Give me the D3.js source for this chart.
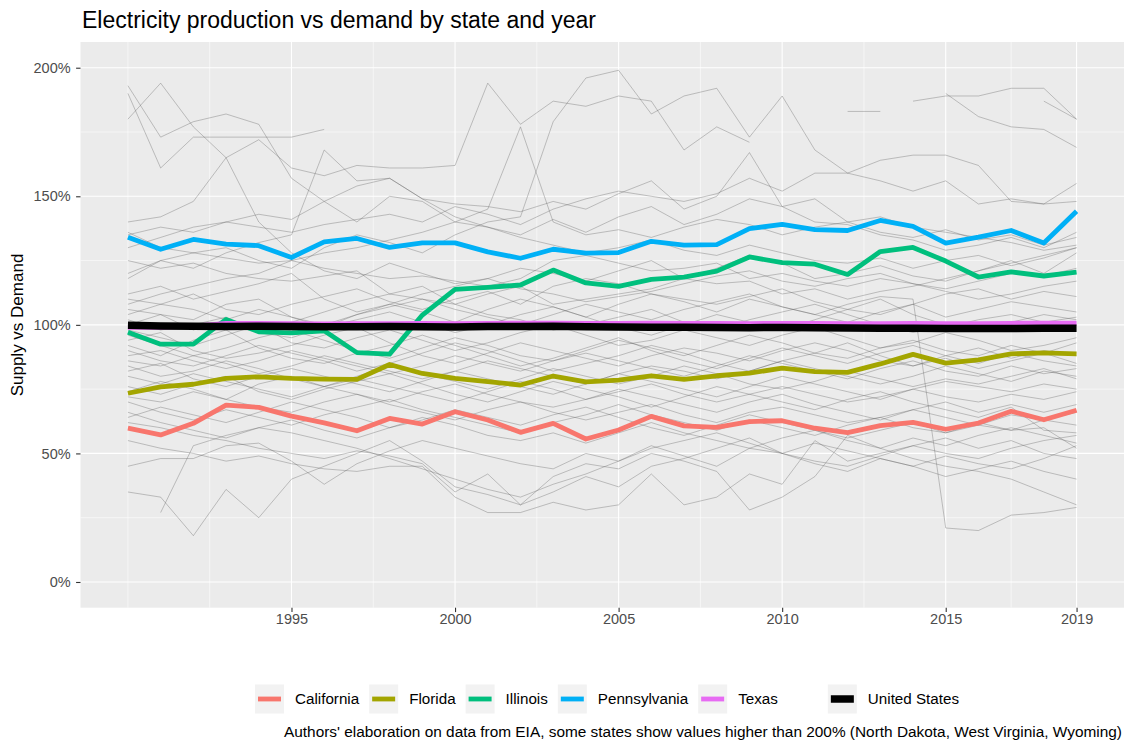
<!DOCTYPE html>
<html><head><meta charset="utf-8">
<script src="https://cdn.jsdelivr.net/npm/d3@7"></script>
<style>
body{margin:0;background:#fff}
svg{display:block}
text{font-family:"Liberation Sans",Arial,Helvetica,sans-serif}
</style>
</head><body>
<svg id="chart" width="1127" height="748"></svg>
<script>
// ---------------- DATA ----------------
const years = [1990,1991,1992,1993,1994,1995,1996,1997,1998,1999,2000,2001,2002,2003,2004,2005,2006,2007,2008,2009,2010,2011,2012,2013,2014,2015,2016,2017,2018,2019];

const california   = [0.598,0.572,0.617,0.688,0.679,0.645,0.619,0.588,0.636,0.614,0.662,0.630,0.582,0.617,0.556,0.591,0.644,0.607,0.601,0.624,0.627,0.598,0.581,0.608,0.621,0.594,0.618,0.664,0.631,0.668];
const florida      = [0.734,0.759,0.769,0.792,0.798,0.792,0.789,0.788,0.846,0.811,0.792,0.779,0.766,0.801,0.778,0.785,0.802,0.788,0.802,0.812,0.832,0.818,0.815,0.848,0.885,0.851,0.864,0.887,0.891,0.887];
const illinois     = [0.971,0.925,0.925,1.021,0.973,0.969,0.977,0.892,0.886,1.038,1.138,1.146,1.155,1.213,1.163,1.150,1.177,1.186,1.209,1.264,1.242,1.236,1.196,1.285,1.301,1.248,1.186,1.206,1.190,1.205];
const pennsylvania = [1.341,1.294,1.332,1.314,1.308,1.262,1.323,1.336,1.301,1.319,1.319,1.284,1.259,1.294,1.279,1.281,1.325,1.310,1.312,1.374,1.391,1.370,1.367,1.406,1.383,1.318,1.341,1.367,1.318,1.442];
const texas        = [0.990,0.990,0.995,1.006,1.006,1.005,1.004,1.005,1.005,1.006,1.005,1.006,1.007,1.007,1.006,1.006,1.007,1.006,1.006,1.005,1.006,1.006,1.005,1.005,1.006,1.005,1.005,1.006,1.007,1.007];
const unitedStates = [0.998,0.996,0.995,0.994,0.995,0.994,0.993,0.993,0.994,0.993,0.992,0.994,0.994,0.995,0.993,0.992,0.991,0.991,0.990,0.989,0.990,0.989,0.988,0.987,0.987,0.986,0.986,0.986,0.987,0.987];

const stateNames  = ["California","Florida","Illinois","Pennsylvania","Texas"];
const stateColors = ["#F8766D","#A3A500","#00BF7D","#00B0F6","#E76BF3"];
const usName = "United States";

// other states (percent, n = not shown / above 200%)
const n = null;
const otherStates = [
 [190,161,173,173,173,173,176,n,n,n,n,n,n,n,n,n,n,n,n,n,n,n,n,n,n,n,n,n,n,n],
 [193,173,179,182,178,157,148,140,150,148,140,138,135,141,136,142,146,139,143,149,146,140,139,135,133,129,131,134,130,136],
 [180,194,177,165,140,128,121,118,124,120,116,118,122,120,117,121,125,118,122,127,124,118,120,123,119,117,121,125,120,128],
 [140,142,148,165,172,161,158,162,161,161,162,194,178,187,185,189,187,168,177,171,n,n,n,n,n,n,n,n,n,n],
 [118,125,128,130,125,122,130,135,132,128,135,140,142,179,196,199,182,189,192,173,189,168,159,164,166,166,162,148,147,155],
 [108,112,115,118,120,125,128,130,133,136,140,145,177,140,135,137,134,138,141,139,135,138,140,136,134,137,133,135,131,134],
 [120,125,122,128,132,135,168,156,157,149,142,138,134,131,128,130,133,129,127,131,128,125,124,126,122,125,127,123,126,130],
 [130,134,138,140,143,141,148,154,157,149,147,146,144,148,145,151,156,145,150,167,146,149,140,142,138,136,134,132,129,131],
 [135,138,136,140,138,136,139,141,143,140,146,143,139,145,149,152,150,148,151,157,152,159,159,156,152,156,147,149,147,148],
 [n,n,n,n,n,n,n,n,n,n,n,n,n,n,n,n,n,n,n,n,n,n,183,183,n,n,n,n,n,n],
 [n,n,n,n,n,n,n,n,n,n,n,n,n,n,n,n,n,n,n,n,n,n,n,n,187,189,189,192,192,180],
 [n,n,n,n,n,n,n,n,n,n,n,n,n,n,n,n,n,n,n,n,n,n,n,n,n,190,181,177,176,169],
 [n,n,n,n,n,n,n,n,n,n,n,n,n,n,n,n,n,n,n,n,n,n,n,n,n,n,n,n,187,180],
 [136,130,128,126,124,125,122,120,118,119,117,115,118,125,127,124,121,122,124,118,120,117,115,118,116,114,117,120,119,122],
 [125,122,124,120,118,117,119,121,112,110,108,112,115,108,110,112,114,118,116,117,112,114,110,113,115,118,121,124,127,130],
 [112,115,110,113,116,120,110,105,108,112,115,118,114,112,109,111,113,116,119,121,117,115,118,120,116,113,110,112,115,117],
 [110,108,112,106,104,108,111,114,109,106,110,113,108,115,118,116,112,110,108,111,114,109,106,104,108,112,114,110,113,111],
 [106,104,102,108,110,103,100,104,107,110,106,103,100,104,108,105,102,106,109,112,107,104,101,105,108,103,106,109,107,105],
 [104,108,106,102,99,101,105,109,112,115,108,104,102,98,100,103,106,101,98,102,105,108,104,100,97,99,102,104,101,103],
 [102,98,100,103,97,95,99,102,105,101,97,100,104,107,103,99,96,100,104,101,98,102,106,110,104,100,98,101,104,102],
 [98,95,92,96,100,93,91,95,98,94,90,93,97,100,96,92,94,98,95,92,96,99,95,91,93,97,94,90,92,95],
 [96,92,88,91,95,98,94,90,87,91,95,92,88,86,90,94,91,88,92,96,93,89,87,91,94,90,88,92,89,93],
 [94,97,90,87,89,92,96,99,93,88,85,89,93,90,87,84,88,91,89,86,90,93,90,86,84,88,91,87,90,88],
 [92,88,94,98,91,87,85,89,92,96,92,88,84,87,91,95,90,86,83,87,91,88,85,89,92,88,85,89,86,84],
 [90,86,84,88,92,89,86,82,85,89,93,90,86,82,85,88,92,89,85,82,86,89,93,88,84,87,83,86,89,85],
 [88,90,86,83,86,90,87,84,81,84,88,85,82,86,89,86,83,80,84,88,85,82,79,83,86,82,80,84,81,83],
 [86,84,88,85,81,84,88,85,82,79,82,86,83,80,77,81,84,82,79,82,86,83,80,77,80,84,81,78,82,80],
 [84,80,82,86,83,79,76,80,84,81,78,75,79,83,80,77,80,84,81,77,75,78,82,79,76,79,77,80,83,79],
 [82,85,79,76,80,83,80,77,74,78,82,79,76,73,77,81,78,75,72,76,80,77,74,71,75,78,76,74,77,75],
 [80,77,81,78,75,72,76,79,76,73,70,74,78,75,71,74,77,73,70,73,76,73,70,72,75,72,70,73,71,74],
 [100,104,98,102,106,103,99,104,108,105,101,106,110,107,103,108,112,109,105,110,107,104,108,111,110,21,20,26,27,29],
 [72,70,74,71,68,66,70,73,69,66,63,67,70,66,63,66,69,65,62,66,68,65,62,64,67,64,61,65,63,66],
 [70,66,63,67,64,61,65,68,71,67,64,61,58,62,65,69,65,62,59,63,60,57,61,64,60,58,62,59,63,61],
 [66,62,59,56,60,63,59,56,60,64,61,57,55,58,54,58,62,58,55,52,56,59,55,52,56,53,57,60,57,54],
 [45,48,48,53,54,47,38,46,51,55,52,49,46,44,50,47,53,49,45,52,50,54,51,48,45,49,46,44,48,53],
 [35,33,18,36,25,40,45,50,55,47,37,34,30,35,41,37,45,48,52,56,50,46,43,48,45,41,44,47,43,40],
 [n,27,53,57,60,58,55,52,48,44,40,36,33,38,42,47,52,55,58,54,50,47,45,49,53,50,48,52,55,57],
 [55,52,50,47,49,46,44,43,45,45,33,27,27,31,28,30,42,30,33,42,38,55,47,50,53,56,52,55,50,48],
 [62,60,57,55,52,50,48,51,49,46,35,42,30,41,46,44,50,47,43,28,33,41,57,52,48,45,43,40,35,30],
 [64,68,65,62,66,70,67,64,60,63,67,64,61,65,68,64,60,57,61,65,62,59,56,59,62,58,61,59,60,52],
 [76,73,77,80,74,71,75,78,81,77,73,70,74,78,75,72,68,72,76,73,70,67,71,74,70,67,64,68,59,58],
 [74,78,75,71,77,80,76,73,70,74,77,73,70,68,71,75,72,69,66,70,73,69,66,63,67,70,66,69,66,69]
];

const xTickValues = [1995,2000,2005,2010,2015,2019];
const xMinorValues = [1990,1992.5,1997.5,2002.5,2007.5,2012.5,2017];
const yTickValues = [0,0.5,1,1.5,2];
const yMinorValues = [0.25,0.75,1.25,1.75];

const titleText = "Electricity production vs demand by state and year";
const yTitle = "Supply vs Demand";
const captionText = "Authors' elaboration on data from EIA, some states show values higher than 200% (North Dakota, West Virginia, Wyoming)";

// ---------------- CHART ----------------
const svg = d3.select("#chart");
const P = {left:80.5, right:1124, top:42, bottom:607.7};

const x = d3.scaleLinear().domain([1988.55, 2020.45]).range([P.left, P.right]);
const y = d3.scaleLinear().domain([-0.1, 2.1]).range([P.bottom, P.top]);

svg.append("rect").attr("x",0).attr("y",0).attr("width",1127).attr("height",748).attr("fill","#fff");
svg.append("rect").attr("x",P.left).attr("y",P.top).attr("width",P.right-P.left).attr("height",P.bottom-P.top).attr("fill","#EBEBEB");

svg.append("defs").append("clipPath").attr("id","clip")
  .append("rect").attr("x",P.left).attr("y",P.top).attr("width",P.right-P.left).attr("height",P.bottom-P.top);

const grid = svg.append("g");
grid.selectAll(".ymin").data(yMinorValues).join("line")
  .attr("x1",P.left).attr("x2",P.right).attr("y1",d=>y(d)).attr("y2",d=>y(d))
  .attr("stroke","#fff").attr("stroke-width",0.55);
grid.selectAll(".xmin").data(xMinorValues).join("line")
  .attr("y1",P.top).attr("y2",P.bottom).attr("x1",d=>x(d)).attr("x2",d=>x(d))
  .attr("stroke","#fff").attr("stroke-width",0.55);
grid.selectAll(".ymaj").data(yTickValues).join("line")
  .attr("x1",P.left).attr("x2",P.right).attr("y1",d=>y(d)).attr("y2",d=>y(d))
  .attr("stroke","#fff").attr("stroke-width",1.1);
grid.selectAll(".xmaj").data(xTickValues).join("line")
  .attr("y1",P.top).attr("y2",P.bottom).attr("x1",d=>x(d)).attr("x2",d=>x(d))
  .attr("stroke","#fff").attr("stroke-width",1.1);

const lineGen = d3.line()
  .defined(d => d[1] !== null)
  .x(d => x(d[0])).y(d => y(d[1]));

const plot = svg.append("g").attr("clip-path","url(#clip)");

plot.selectAll(".other").data(otherStates).join("path")
  .attr("fill","none")
  .attr("stroke","#5a5a5a")
  .attr("stroke-opacity",0.38)
  .attr("stroke-width",0.9)
  .attr("stroke-linejoin","round")
  .attr("d", s => lineGen(years.map((yr,i)=>[yr, s[i]===null?null:s[i]/100])));

const states = [california, florida, illinois, pennsylvania, texas];
states.forEach((vals,i)=>{
  plot.append("path")
    .attr("fill","none")
    .attr("stroke",stateColors[i])
    .attr("stroke-width",4.8)
    .attr("stroke-linejoin","round")
    .attr("d", lineGen(years.map((yr,j)=>[yr, vals[j]])));
});
plot.append("path")
  .attr("fill","none").attr("stroke","#000").attr("stroke-width",7.5)
  .attr("stroke-linejoin","round")
  .attr("d", lineGen(years.map((yr,j)=>[yr, unitedStates[j]])));

// axes
const FONT = '"Liberation Sans",Arial,sans-serif';
const yAxis = d3.axisLeft(y).tickValues(yTickValues).tickFormat(d3.format(".0%")).tickSize(4.4).tickPadding(5.5);
const gy = svg.append("g").attr("transform",`translate(${P.left},0)`).call(yAxis);
gy.select(".domain").remove();
gy.selectAll(".tick line").attr("stroke","#333").attr("stroke-width",1.1);
gy.selectAll(".tick text").attr("fill","#4D4D4D").style("font-size","14.5px").style("font-family",FONT);

const xAxis = d3.axisBottom(x).tickValues(xTickValues).tickFormat(d3.format("d")).tickSize(4.4).tickPadding(2);
const gx = svg.append("g").attr("transform",`translate(0,${P.bottom})`).call(xAxis);
gx.select(".domain").remove();
gx.selectAll(".tick line").attr("stroke","#333").attr("stroke-width",1.1);
gx.selectAll(".tick text").attr("fill","#4D4D4D").style("font-size","14.5px").style("font-family",FONT);

// titles
svg.append("text").attr("x",82).attr("y",28).attr("fill","#000").style("font-size","23px").text(titleText);
svg.append("text").attr("transform","translate(23,325) rotate(-90)").attr("text-anchor","middle")
  .attr("fill","#000").style("font-size","17px").text(yTitle);
svg.append("text").attr("x",1122).attr("y",737).attr("text-anchor","end").attr("fill","#000")
  .style("font-size","15.4px").text(captionText);

// legend
const legend = svg.append("g");
const legendItems = stateNames.map((nm,i)=>({name:nm, color:stateColors[i], w:4.8}));
legendItems.push({name:usName, color:"#000", w:7.5, group:2});
let lx = 255;
const ly = 699, kw = 29, kh = 29;
legendItems.forEach((it,i)=>{
  if (it.group===2) lx += 40;
  const g = legend.append("g");
  g.append("rect").attr("x",lx).attr("y",ly-kh/2).attr("width",kw).attr("height",kh).attr("fill","#F2F2F2");
  g.append("line").attr("x1",lx+3).attr("x2",lx+kw-3).attr("y1",ly).attr("y2",ly)
    .attr("stroke",it.color).attr("stroke-width",it.w);
  const t = g.append("text").attr("x",lx+kw+11).attr("y",ly).attr("dy","0.35em")
    .attr("fill","#000").style("font-size","15.2px").text(it.name);
  lx = lx+kw+11+t.node().getComputedTextLength()+10;
});
</script>
</body></html>
